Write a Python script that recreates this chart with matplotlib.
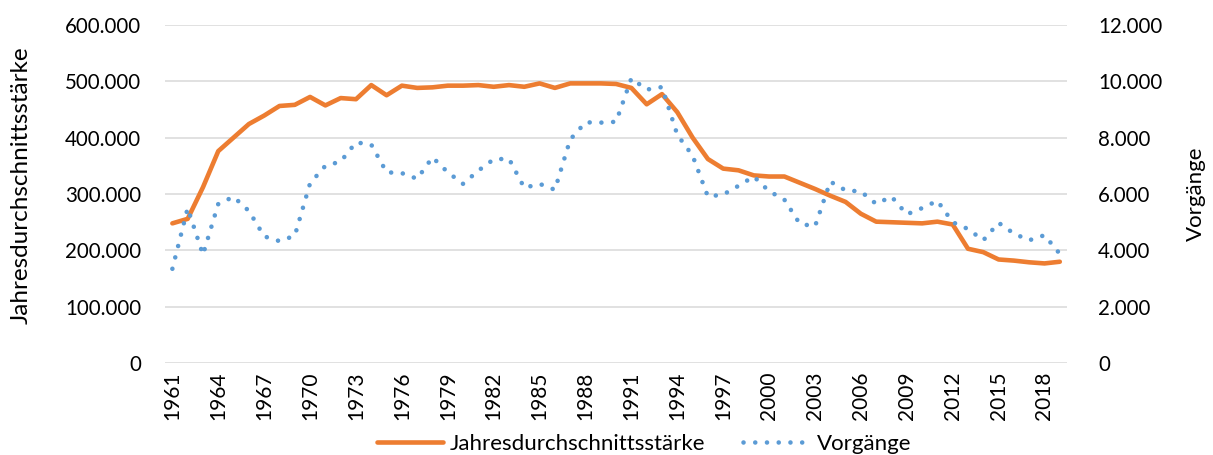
import matplotlib
matplotlib.use("Agg")
import matplotlib.pyplot as plt
from matplotlib.ticker import FixedLocator, FuncFormatter

plt.rcParams['font.family'] = ['Lato', 'DejaVu Sans']

years = list(range(1961, 2020))
staerke = [248000, 256000, 312000, 376000, 400000, 424000, 439000, 456000, 458000, 472000,
           457000, 470000, 468000, 493000, 475000, 492000, 488000, 489000, 492000, 492000,
           493000, 490000, 493000, 490000, 496000, 488000, 496000, 496000, 496000, 495000,
           488000, 459000, 477000, 445000, 400000, 362000, 345000, 342000, 333000, 331000,
           331000, 320000, 309000, 297000, 286000, 265000, 251000, 250000, 249000, 248000,
           251000, 246000, 203000, 197000, 184000, 182000, 179000, 177000, 180000]
vorgaenge = [3350, 5500, 3850, 5650, 5900, 5400, 4500, 4330, 4520, 6380,
             7000, 7150, 7830, 7750, 6770, 6740, 6540, 7300, 6770, 6360,
             6830, 7230, 7250, 6220, 6360, 6150, 7930, 8540, 8530, 8560,
             10100, 9700, 9790, 8100, 7360, 5910, 5980, 6290, 6620, 6100,
             5800, 4950, 4850, 6440, 6130, 6090, 5650, 5910, 5280, 5500,
             5760, 5000, 4760, 4360, 4980, 4600, 4360, 4540, 3880]
xtick_years = list(range(1961, 2020, 3))
left_ticks = [0, 100000, 200000, 300000, 400000, 500000, 600000]
right_ticks = [0, 2000, 4000, 6000, 8000, 10000, 12000]
label_left = "Jahresdurchschnittsstärke"
label_right = "Vorgänge"

ORANGE = "#ED7D31"
BLUE = "#5B9BD5"
GRID = "#D9D9D9"
TXT = "#000000"

def de_fmt(v, pos=None):
    return f"{int(round(v)):,}".replace(",", ".")

fig = plt.figure(figsize=(12.13, 4.55), dpi=100)
ax = fig.add_axes([0.1358, 0.2015, 0.7442, 0.7442])
ax2 = ax.twinx()

ax.plot(years, staerke, color=ORANGE, lw=3.3, solid_capstyle='round',
        solid_joinstyle='round', label=label_left, zorder=3)
ax2.plot(years, vorgaenge, color=BLUE, lw=3.3, linestyle=(0, (0.01, 2.55)),
         dash_capstyle='round', label=label_right, zorder=3)

ax.set_xlim(1960.5, 2019.5)
ax.set_ylim(0, 600000)
ax2.set_ylim(0, 12000)

ax.yaxis.set_major_locator(FixedLocator(left_ticks))
ax.yaxis.set_major_formatter(FuncFormatter(de_fmt))
ax2.yaxis.set_major_locator(FixedLocator(right_ticks))
ax2.yaxis.set_major_formatter(FuncFormatter(de_fmt))
ax.set_xticks(xtick_years)
ax.set_xticklabels([str(y) for y in xtick_years], rotation=90)

ax.grid(axis='y', color=GRID, lw=1.1, zorder=0)
ax.set_axisbelow(True)
for a in (ax, ax2):
    for s in a.spines.values():
        s.set_visible(False)

ax.tick_params(axis='y', length=0, pad=17, labelsize=14.8, labelcolor=TXT)
ax2.tick_params(axis='y', length=0, pad=22, labelsize=14.8, labelcolor=TXT)
ax.tick_params(axis='x', length=0, pad=6, labelsize=15, labelcolor=TXT)

ax.set_ylabel(label_left, fontsize=17.5, color=TXT)
ax.yaxis.set_label_coords(-0.147, 0.527)
ax2.set_ylabel(label_right, fontsize=16, color=TXT)
ax2.yaxis.set_label_coords(1.131, 0.5)

h1, l1 = ax.get_legend_handles_labels()
h2, l2 = ax2.get_legend_handles_labels()
fig.legend(h1 + h2, l1 + l2, loc='center', bbox_to_anchor=(644 / 1213, 11 / 455),
           ncol=2, frameon=False, fontsize=16, handlelength=3.0,
           handletextpad=0.3, columnspacing=1.7)

fig.savefig("out.png", dpi=100)
